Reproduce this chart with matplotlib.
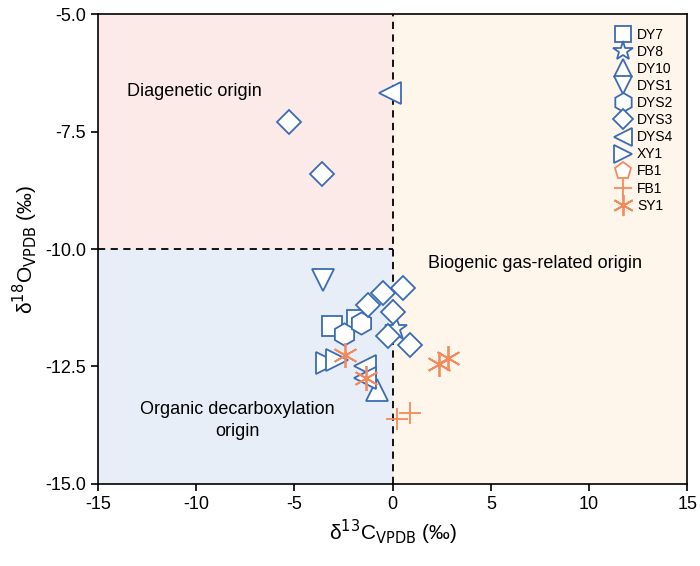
import matplotlib
matplotlib.use("Agg")
import matplotlib.pyplot as plt
from matplotlib.patches import Rectangle

plt.rcParams["font.family"] = ["Liberation Sans", "DejaVu Sans"]
plt.rcParams["axes.unicode_minus"] = False

BLUE = "#3b6bb5"
ORANGE = "#f5895c"

dy7_x = [-3.1, -1.8]
dy7_y = [-11.64, -11.5]
dy8_x = [0.15]
dy8_y = [-11.7]
dy10_x = [-0.8]
dy10_y = [-13.0]
dys1_x = [-3.57]
dys1_y = [-10.66]
dys2_x = [-2.5, -1.63]
dys2_y = [-11.8, -11.57]
dys3_x = [-5.3, -3.6, -0.5, 0.5, -1.27, 0.0, -0.25, 0.87]
dys3_y = [-7.3, -8.4, -10.94, -10.83, -11.19, -11.34, -11.85, -12.04]
dys4_x = [-0.15, -1.43, -1.43]
dys4_y = [-6.68, -12.5, -12.75]
xy1_x = [-3.36, -2.85]
xy1_y = [-12.43, -12.36]
fb1p_x = []
fb1p_y = []
fb1_x = [0.2, 0.87]
fb1_y = [-13.62, -13.5]
sy1_x = [-2.45, -1.37, 2.35, 2.8]
sy1_y = [-12.25, -12.75, -12.45, -12.33]

fig = plt.figure(figsize=(7, 5.66), dpi=100)
ax = fig.add_axes([0.14, 0.145, 0.842, 0.83])
ax.set_xlim(-15, 15)
ax.set_ylim(-15, -5)

ax.add_patch(Rectangle((-15, -10), 15, 5, color="#fbeae8", zorder=0))
ax.add_patch(Rectangle((-15, -15), 15, 5, color="#e7eef8", zorder=0))
ax.add_patch(Rectangle((0, -15), 15, 10, color="#fef6ea", zorder=0))
ax.axvline(0, color="black", ls=(0, (4, 3)), lw=1.3, zorder=1)
ax.plot([-15, 0], [-10, -10], color="black", ls=(0, (4, 3)), lw=1.3, zorder=1)

ax.text(-13.5, -6.75, "Diagenetic origin", fontsize=13)
ax.text(1.8, -10.3, "Biogenic gas-related origin", fontsize=13, va="center")
ax.text(-7.9, -13.65, "Organic decarboxylation\norigin", fontsize=13, ha="center",
        va="center", linespacing=1.4)

series = [
    (dy7_x, dy7_y, "s", BLUE, "DY7", 14),
    (dy8_x, dy8_y, "*", BLUE, "DY8", 17),
    (dy10_x, dy10_y, "^", BLUE, "DY10", 16),
    (dys1_x, dys1_y, "v", BLUE, "DYS1", 16),
    (dys2_x, dys2_y, "h", BLUE, "DYS2", 16),
    (dys3_x, dys3_y, "D", BLUE, "DYS3", 12),
    (dys4_x, dys4_y, "<", BLUE, "DYS4", 16),
    (xy1_x, xy1_y, ">", BLUE, "XY1", 16),
    (fb1p_x, fb1p_y, "p", ORANGE, "FB1", 15),
]
for x, y, m, c, lab, ms in series:
    ax.plot(x, y, m, ms=ms, mfc="white", mec=c, mew=1.3, ls="none", label=lab, zorder=3)
ax.plot(fb1_x, fb1_y, "+", ms=16, mec=ORANGE, mew=1.3, ls="none", label="FB1", zorder=4)
ax.plot(sy1_x, sy1_y, marker=(6, 2, 0), ms=18, mec=ORANGE, mew=1.3, ls="none", label="SY1", zorder=4)

ax.legend(loc="upper right", frameon=False, fontsize=10, handletextpad=0.4,
          labelspacing=0.22, borderaxespad=0.6, markerscale=0.85, handlelength=1.3)

ax.set_xticks(range(-15, 16, 5))
ax.set_yticks([-15, -12.5, -10, -7.5, -5])
ax.set_yticklabels(["-15.0", "-12.5", "-10.0", "-7.5", "-5.0"])
ax.tick_params(labelsize=13, direction="out", length=5, width=1.2)
for s in ax.spines.values():
    s.set_linewidth(1.2)
ax.set_xlabel(r"δ$^{13}$C$_{\mathrm{VPDB}}$ (‰)", fontsize=15)
ax.set_ylabel(r"δ$^{18}$O$_{\mathrm{VPDB}}$ (‰)", fontsize=15)

fig.savefig("out.png", dpi=100)
